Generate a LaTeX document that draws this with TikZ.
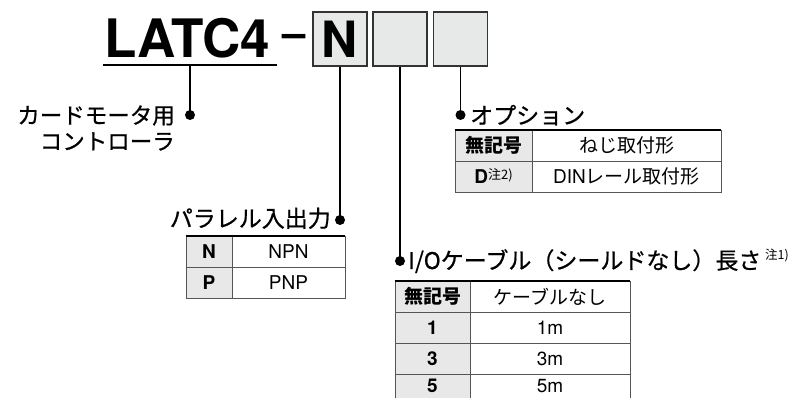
\documentclass[tikz,border=0pt]{standalone}
\usepackage{fontspec}
\setmainfont{TeX Gyre Heros}
\newfontfamily\jp{Noto Sans CJK JP}
\newfontfamily\jpm{Noto Sans CJK JP}[FakeBold=0.7]
\definecolor{boxfill}{HTML}{E7E8E8}
\definecolor{boxline}{HTML}{333333}
\definecolor{keyfill}{HTML}{E8E8E8}
\definecolor{cellline}{HTML}{555555}
\tikzset{
  conn/.style={line width=1.5pt, black},
  dotn/.style={circle, fill=black, inner sep=0pt, minimum size=10pt},
  codebox/.style={draw=boxline, line width=1.4pt, fill=boxfill, minimum width=54pt, minimum height=54pt, inner sep=0pt, font=\bfseries\fontsize{50}{50}\selectfont},
  ttl/.style={font=\jpm\fontsize{23}{23}\selectfont, inner sep=0pt},
  keycell/.style={draw=cellline, line width=0.8pt, fill=keyfill, minimum height=31pt, inner sep=0pt, font=\bfseries\fontsize{19}{19}\selectfont},
  valcell/.style={draw=cellline, line width=0.8pt, fill=white, minimum height=31pt, inner sep=0pt, font=\fontsize{19}{19}\selectfont},
  lastrow/.style={minimum height=24pt},
  topline/.style={line width=2pt, black}
}
\newcommand{\notemark}[3]{\raisebox{#1}{\normalfont\fontsize{#3}{#3}\selectfont\jp #2}}
\begin{document}
\begin{tikzpicture}[x=1pt, y=-1pt]
\useasboundingbox (0,0) rectangle (790,398);
% model code
\node[anchor=base west, inner sep=0pt, font=\bfseries\fontsize{53}{53}\selectfont] (model) at (104,58) {LATC4};
\coordinate (ulL) at (103,65.5);
\coordinate (ulR) at (277,65.5);
\coordinate (ul) at (190,65.5);
\draw[line width=2pt] (ulL) -- (ulR);
\node[anchor=base, inner sep=0pt, font=\bfseries\fontsize{42}{42}\selectfont] (dash) at (294.5,48) {–};
\node[codebox] (b1) at (340,39) {N};
\node[codebox] (b2) at (400,39) {};
\node[codebox] (b3) at (460.5,39) {};
% dots
\node[dotn] (d1) at (190,115) {};
\node[dotn] (d2) at (340,220) {};
\node[dotn] (d3) at (400,261) {};
\node[dotn] (d4) at (460.5,115) {};
\draw[conn] (ul) -- (d1.center);
\draw[conn] (b1.south) -- (d2.center);
\draw[conn] (b2.south) -- (d3.center);
\draw[conn] (b3.south) -- (d4.center);
% labels
\node[ttl, anchor=east, align=right, font=\jpm\fontsize{22.5}{26}\selectfont] (l1) at (175,128) {カードモータ用\\コントローラ};
\node[ttl, anchor=base west] (l4) at (470,124) {オプション};
\node[ttl, anchor=base east] (l2) at (331,227) {パラレル入出力};
\node[ttl, anchor=base west] (l3) at (408,269) {I/Oケーブル（シールドなし）長さ\,\notemark{9pt}{注1)}{12.5}};
% option table
\node[keycell, minimum width=77pt] (o11) at (493.5,145.5) {\jp 無記号};
\node[valcell, minimum width=189pt] (o12) at (626.5,145.5) {\jp ねじ取付形};
\node[keycell, minimum width=77pt] (o21) at (493.5,176.5) {D\notemark{4pt}{注2)}{13}};
\node[valcell, minimum width=189pt] (o22) at (626.5,176.5) {DIN{\jp レール取付形}};
\draw[topline] (o11.north west) -- (o12.north east);
% parallel table
\node[keycell, minimum width=46pt] (p11) at (209,251.5) {N};
\node[valcell, minimum width=113pt] (p12) at (288.5,251.5) {NPN};
\node[keycell, minimum width=46pt] (p21) at (209,282.5) {P};
\node[valcell, minimum width=113pt] (p22) at (288.5,282.5) {PNP};
\draw[topline] (p11.north west) -- (p12.north east);
% cable table
\node[keycell, minimum width=75pt] (c11) at (432.5,296.5) {\jp 無記号};
\node[valcell, minimum width=160pt] (c12) at (550,296.5) {\jp ケーブルなし};
\node[keycell, minimum width=75pt] (c21) at (432.5,327.5) {1};
\node[valcell, minimum width=160pt] (c22) at (550,327.5) {1m};
\node[keycell, minimum width=75pt] (c31) at (432.5,358.5) {3};
\node[valcell, minimum width=160pt] (c32) at (550,358.5) {3m};
\node[keycell, lastrow, minimum width=75pt] (c41) at (432.5,386) {\raisebox{-3pt}{5}};
\node[valcell, lastrow, minimum width=160pt] (c42) at (550,386) {\raisebox{-3pt}{5m}};
\draw[topline] (c11.north west) -- (c12.north east);
\end{tikzpicture}
\end{document}
